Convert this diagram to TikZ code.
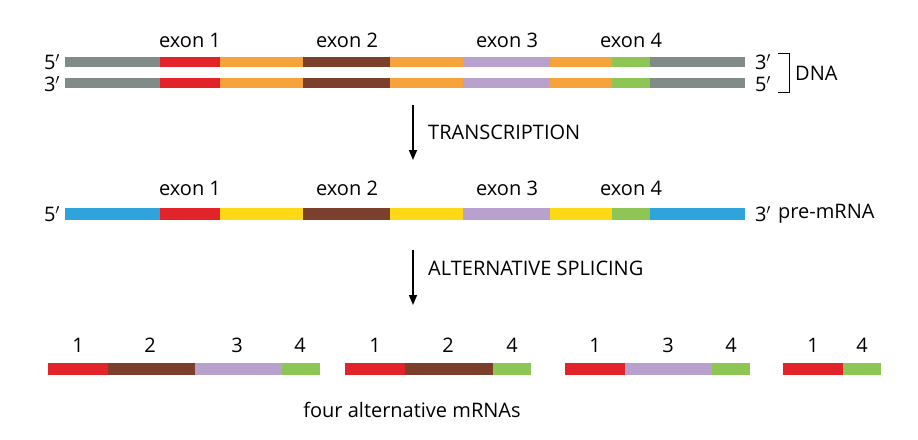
\documentclass[tikz,border=0pt]{standalone}
\usepackage{fontspec}
\setmainfont{Open Sans}
\usetikzlibrary{arrows.meta}
\definecolor{cgray}{HTML}{818B88}
\definecolor{cred}{HTML}{E3232A}
\definecolor{corange}{HTML}{F5A33A}
\definecolor{cbrown}{HTML}{7B3F2B}
\definecolor{cpurple}{HTML}{B9A1CD}
\definecolor{cgreen}{HTML}{8DC654}
\definecolor{cblue}{HTML}{2FA3DC}
\definecolor{cyellow}{HTML}{FCD914}
\begin{document}
\begin{tikzpicture}[x=1pt,y=-1pt,
  lab/.style={font=\fontsize{20}{22}\selectfont,inner sep=0pt},
  arr/.style={-{Triangle[length=10pt,width=8pt]},line width=1.6pt}]
\useasboundingbox (0,0) rectangle (918,439);
\foreach \y/\h in {57/10,78/10}{
 \foreach \a/\b/\c in {65/160/cgray,160/220/cred,220/303/corange,303/390/cbrown,390/463/corange,463/550/cpurple,550/612/corange,612/650/cgreen,650/745/cgray}
  \fill[\c] (\a,\y) rectangle (\b,\y+\h);}
\foreach \a/\b/\c in {65/160/cblue,160/220/cred,220/303/cyellow,303/390/cbrown,390/463/cyellow,463/550/cpurple,550/612/cyellow,612/650/cgreen,650/745/cblue}
  \fill[\c] (\a,208) rectangle (\b,220);
\foreach \y in {40,188}{
 \node[lab] (e1\y) at (190,\y) {exon 1};
 \node[lab] (e2\y) at (347,\y) {exon 2};
 \node[lab] (e3\y) at (507,\y) {exon 3};
 \node[lab] (e4\y) at (631,\y) {exon 4};}
\node[lab] (l5a) at (52,62) {5$'$};
\node[lab] (l3a) at (52,84) {3$'$};
\node[lab] (r3a) at (763,62) {3$'$};
\node[lab] (r5a) at (763,84) {5$'$};
\draw[line width=0.8pt] (778,53) -- (789,53) -- (789,92) -- (778,92);
\node[lab,anchor=west] (dna) at (795,73) {DNA};
\node[lab] (l5b) at (52,214) {5$'$};
\node[lab] (r3b) at (763,214) {3$'$};
\node[lab,anchor=west] (pre) at (778,214) {pre-mRNA};
\coordinate (t1) at (413,105); \coordinate (t2) at (413,160);
\draw[arr] (t1) -- (t2);
\node[lab,anchor=west] (tr) at (428,132) {TRANSCRIPTION};
\coordinate (s1) at (413,250); \coordinate (s2) at (413,305);
\draw[arr] (s1) -- (s2);
\node[lab,anchor=west] (sp) at (428,268) {ALTERNATIVE SPLICING};
\foreach \a/\b/\c in {48/108/cred,108/195/cbrown,195/282/cpurple,282/320/cgreen,
  345/405/cred,405/493/cbrown,493/531/cgreen,
  565/625/cred,625/712/cpurple,712/750/cgreen,
  783/843/cred,843/881/cgreen}
  \fill[\c] (\a,363) rectangle (\b,375);
\foreach \x/\t [count=\i] in {78/1,150/2,237/3,300/4,375/1,448/2,512/4,595/1,668/3,731/4,813/1,862/4}
  \node[lab] (n\i) at (\x,345) {\t};
\node[lab] (four) at (412,410) {four alternative mRNAs};
\end{tikzpicture}
\end{document}
